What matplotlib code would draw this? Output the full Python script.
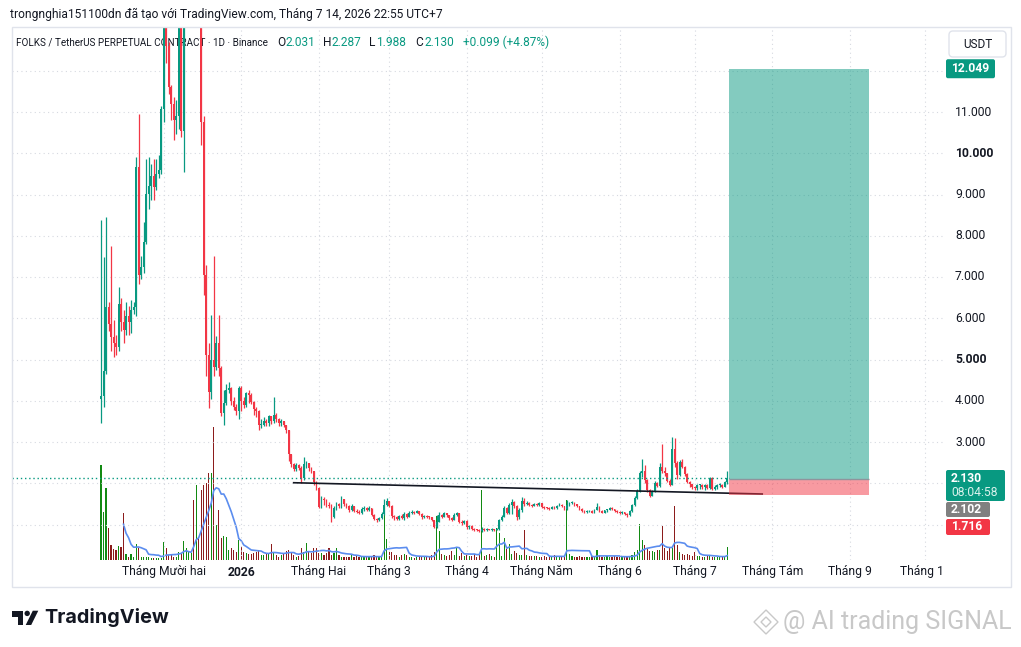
import numpy as np
import pandas as pd
import matplotlib
matplotlib.use("Agg")
import matplotlib.pyplot as plt
import matplotlib.patches as mpatches
import matplotlib.transforms as mtrans

plt.rcParams['font.family'] = ['Roboto', 'DejaVu Sans']

# ---------------- data ----------------
START_DATE = '2025-11-06'
first_open = 4.05
closes = [
    4.12, 4.71, 6.28, 5.86, 5.55, 5.40, 5.30, 6.35, 5.92, 5.72,
    6.05, 5.90, 6.20, 6.28, 9.66, 7.04, 7.25, 7.85, 9.02, 9.20,
    9.46, 9.18, 9.50, 9.60, 11.08, 14.50, 12.60, 11.60, 11.20, 10.80,
    10.90, 14.60, 10.55, 14.80, 15.50, 16.80, 17.50, 16.60, 17.20, 16.50,
    10.76, 7.05, 5.11, 4.22, 5.00, 4.83, 5.39, 4.80, 3.70, 3.95,
    4.25, 4.30, 4.00, 3.85, 3.74, 4.30, 4.00, 3.90, 4.18, 4.15,
    3.98, 3.80, 3.75, 3.42, 3.42, 3.52, 3.45, 3.62, 3.52, 3.65,
    3.55, 3.46, 3.50, 3.41, 3.28, 2.72, 2.46, 2.34, 2.44, 2.38,
    2.12, 2.46, 2.48, 2.36, 2.30, 2.02, 1.88, 1.43, 1.62, 1.60,
    1.46, 1.45, 1.19, 1.40, 1.50, 1.44, 1.62, 1.50, 1.45, 1.34,
    1.45, 1.33, 1.31, 1.28, 1.38, 1.40, 1.36, 1.40, 1.24, 1.14,
    1.10, 1.16, 1.26, 1.48, 1.56, 1.45, 1.20, 1.17, 1.13, 1.20,
    1.15, 1.26, 1.18, 1.29, 1.31, 1.29, 1.32, 1.26, 1.17, 1.21,
    1.19, 1.17, 1.11, 0.95, 1.07, 1.23, 1.19, 1.27, 1.22, 1.15,
    1.11, 1.24, 1.27, 1.07, 1.04, 1.09, 0.93, 0.97, 0.89, 0.87,
    0.86, 0.85, 0.90, 0.87, 0.89, 0.87, 0.89, 0.87, 0.90, 1.10,
    1.19, 1.39, 1.28, 1.47, 1.55, 1.45, 1.17, 1.36, 1.58, 1.50,
    1.52, 1.47, 1.45, 1.50, 1.48, 1.51, 1.43, 1.41, 1.40, 1.38,
    1.42, 1.39, 1.45, 1.48, 1.44, 1.38, 1.48, 1.51, 1.53, 1.49,
    1.44, 1.38, 1.33, 1.30, 1.31, 1.33, 1.29, 1.35, 1.43, 1.33,
    1.29, 1.34, 1.36, 1.40, 1.37, 1.33, 1.31, 1.28, 1.30, 1.25,
    1.22, 1.33, 1.47, 1.64, 1.80, 2.24, 2.30, 2.08, 1.84, 1.70,
    1.80, 2.00, 1.93, 2.40, 2.30, 2.24, 2.06, 1.96, 2.83, 2.50,
    2.20, 2.52, 2.40, 2.22, 2.04, 1.97, 1.90, 1.88, 1.95, 1.96,
    1.90, 1.96, 1.88, 2.12, 1.86, 1.92, 1.95, 1.96, 1.92, 2.031,
    2.130,
]
highs = [
    8.38, 7.49, 8.46, 6.40, 7.74, 5.95, 5.60, 6.75, 6.50, 6.20,
    6.40, 6.30, 6.45, 6.40, 9.91, 10.96, 7.50, 8.33, 9.85, 9.90,
    9.75, 9.87, 9.87, 9.95, 11.15, 15.20, 15.50, 12.70, 11.65, 11.36,
    11.28, 15.80, 15.00, 15.60, 16.80, 18.00, 19.50, 18.20, 18.40, 17.80,
    17.80, 10.90, 7.30, 5.40, 6.09, 7.50, 5.57, 6.08, 4.85, 4.25,
    4.40, 4.45, 4.33, 4.10, 3.92, 4.36, 4.36, 4.10, 4.22, 4.25,
    4.18, 4.00, 3.85, 3.78, 3.55, 3.60, 3.55, 3.66, 3.64, 4.10,
    3.70, 3.58, 3.56, 3.52, 3.42, 3.30, 2.72, 2.50, 2.48, 2.46,
    2.42, 2.63, 2.55, 2.50, 2.40, 2.30, 2.05, 1.90, 1.70, 1.66,
    1.62, 1.55, 1.50, 1.45, 1.55, 1.52, 1.70, 1.63, 1.52, 1.48,
    1.50, 1.46, 1.38, 1.34, 1.42, 1.44, 1.42, 1.44, 1.41, 1.26,
    1.16, 1.19, 1.30, 1.63, 1.65, 1.58, 1.47, 1.24, 1.20, 1.23,
    1.25, 1.30, 1.28, 1.32, 1.34, 1.33, 1.35, 1.33, 1.27, 1.24,
    1.23, 1.21, 1.18, 1.12, 1.23, 1.30, 1.26, 1.30, 1.29, 1.24,
    1.19, 1.28, 1.31, 1.28, 1.10, 1.12, 1.10, 1.00, 0.98, 0.91,
    0.90, 0.89, 0.93, 0.91, 0.91, 0.90, 0.91, 0.90, 0.92, 1.14,
    1.22, 1.45, 1.42, 1.52, 1.62, 1.58, 1.47, 1.40, 1.66, 1.65,
    1.56, 1.54, 1.50, 1.53, 1.52, 1.55, 1.52, 1.45, 1.43, 1.42,
    1.45, 1.44, 1.48, 1.51, 1.50, 1.45, 1.60, 1.54, 1.56, 1.55,
    1.50, 1.46, 1.40, 1.35, 1.34, 1.36, 1.34, 1.37, 1.51, 1.44,
    1.35, 1.36, 1.38, 1.43, 1.42, 1.38, 1.35, 1.33, 1.33, 1.31,
    1.27, 1.36, 1.50, 1.68, 1.86, 2.30, 2.58, 2.44, 2.10, 1.86,
    1.84, 2.05, 2.02, 2.48, 2.95, 2.40, 2.26, 2.10, 3.13, 3.10,
    2.55, 2.56, 2.60, 2.42, 2.24, 2.06, 1.99, 1.93, 1.98, 1.99,
    1.97, 1.99, 1.97, 2.15, 2.14, 1.95, 1.98, 2.00, 1.97, 2.06,
    2.287,
]
lows = [
    3.45, 3.86, 4.66, 5.70, 5.20, 5.05, 5.12, 5.20, 5.70, 5.40,
    5.60, 5.60, 5.65, 6.10, 6.05, 6.84, 6.95, 7.10, 7.80, 8.65,
    8.86, 8.86, 9.12, 9.40, 9.50, 10.76, 12.20, 11.44, 10.80, 10.31,
    10.47, 10.60, 10.40, 9.55, 14.20, 15.00, 16.00, 15.40, 15.80, 14.50,
    10.19, 6.56, 4.60, 3.82, 4.05, 4.60, 4.75, 4.60, 3.62, 3.41,
    3.90, 4.18, 3.90, 3.78, 3.65, 3.55, 3.75, 3.82, 3.85, 3.95,
    3.92, 3.66, 3.60, 3.30, 3.35, 3.38, 3.38, 3.40, 3.44, 3.45,
    3.48, 3.40, 3.40, 3.36, 3.22, 2.55, 2.40, 2.30, 2.30, 2.32,
    2.00, 2.08, 2.36, 2.30, 2.24, 1.96, 1.84, 1.39, 1.40, 1.48,
    1.42, 1.40, 1.07, 1.15, 1.36, 1.40, 1.40, 1.45, 1.40, 1.30,
    1.32, 1.30, 1.28, 1.25, 1.26, 1.33, 1.32, 1.33, 1.20, 1.10,
    1.05, 1.08, 1.13, 1.22, 1.44, 1.42, 1.15, 1.12, 1.10, 1.12,
    1.13, 1.12, 1.15, 1.17, 1.26, 1.26, 1.27, 1.24, 1.14, 1.15,
    1.16, 1.14, 1.08, 0.92, 0.91, 1.05, 1.15, 1.17, 1.19, 1.12,
    1.08, 1.10, 1.20, 1.04, 1.00, 1.01, 0.90, 0.90, 0.87, 0.85,
    0.84, 0.83, 0.82, 0.85, 0.85, 0.86, 0.85, 0.85, 0.86, 0.87,
    1.08, 1.17, 1.25, 1.26, 1.25, 1.40, 1.12, 1.14, 1.30, 1.46,
    1.48, 1.45, 1.42, 1.44, 1.45, 1.46, 1.41, 1.38, 1.37, 1.36,
    1.37, 1.37, 1.38, 1.44, 1.42, 1.35, 1.36, 1.45, 1.49, 1.46,
    1.42, 1.36, 1.31, 1.28, 1.29, 1.30, 1.27, 1.28, 1.34, 1.31,
    1.27, 1.28, 1.30, 1.34, 1.35, 1.31, 1.29, 1.26, 1.26, 1.23,
    1.18, 1.20, 1.31, 1.45, 1.62, 1.78, 2.15, 2.00, 1.80, 1.66,
    1.68, 1.78, 1.90, 1.90, 2.24, 2.18, 2.02, 1.94, 1.95, 2.40,
    2.10, 2.18, 2.36, 2.18, 2.00, 1.92, 1.86, 1.84, 1.84, 1.87,
    1.86, 1.84, 1.85, 1.86, 1.84, 1.84, 1.86, 1.90, 1.89, 1.90,
    1.988,
]
volumes = [
    95, 48, 72, 32, 15, 11, 10, 14, 13, 47,
    6, 3, 6, 3, 16, 12, 3, 3, 3, 3,
    2, 2, 2, 2, 2, 18, 12, 5, 6, 3,
    3, 8, 7, 19, 12, 8, 7, 60, 75, 23,
    70, 75, 77, 87, 87, 133, 35, 50, 22, 24,
    23, 10, 12, 10, 8, 20, 13, 8, 7, 6,
    6, 7, 8, 9, 5, 5, 6, 6, 16, 7,
    5, 3, 5, 7, 9, 10, 7, 5, 3, 4,
    12, 8, 17, 9, 7, 12, 12, 7, 7, 5,
    7, 12, 5, 7, 12, 5, 3, 3, 3, 3,
    5, 3, 4, 3, 3, 4, 3, 3, 3, 5,
    3, 3, 4, 60, 21, 8, 8, 5, 5, 3,
    5, 6, 5, 3, 3, 2, 3, 3, 4, 3,
    4, 3, 5, 8, 44, 29, 6, 5, 4, 5,
    9, 5, 12, 4, 7, 4, 5, 4, 4, 6,
    3, 5, 70, 4, 5, 6, 4, 3, 32, 27,
    4, 22, 11, 16, 6, 9, 7, 5, 5, 30,
    5, 4, 4, 4, 4, 3, 3, 4, 3, 4,
    3, 5, 4, 3, 4, 3, 60, 6, 4, 3,
    3, 4, 3, 3, 3, 3, 4, 3, 10, 5,
    3, 3, 4, 3, 3, 4, 3, 3, 3, 4,
    3, 4, 5, 8, 10, 36, 20, 15, 12, 9,
    9, 8, 10, 10, 34, 12, 9, 12, 12, 54,
    15, 8, 6, 5, 6, 5, 4, 8, 4, 4,
    3, 3, 5, 4, 3, 3, 3, 3, 3, 4,
    13,
]
vol_ma_len = 10

month_labels = ['Tháng Mười hai', '2026', 'Tháng Hai', 'Tháng 3', 'Tháng 4',
                'Tháng Năm', 'Tháng 6', 'Tháng 7', 'Tháng Tám', 'Tháng 9', 'Tháng 10']
month_starts = pd.date_range('2025-12-01', '2026-10-01', freq='MS')
price_ticks = [3, 4, 5, 6, 7, 8, 9, 10, 11]
bold_ticks = [5, 10]

last_o, last_h, last_l, last_c = 2.031, 2.287, 1.988, 2.130
change_abs, change_pct = 0.099, 4.87
target_price, entry_price, stop_price = 12.049, 2.102, 1.716
countdown = '08:04:58'
pos_start, pos_end = '2026-07-14 17:00', '2026-09-08 14:00'
trend_pts = [('2026-01-21 14:00', 2.013), ('2026-07-28 07:00', 1.739)]

header_text = 'trongnghia151100dn đã tạo với TradingView.com, Tháng 7 14, 2026 22:55 UTC+7'
symbol_text = 'FOLKS / TetherUS PERPETUAL CONTRACT · 1D · Binance'
watermark = '@ AI trading SIGNAL'

# ---------------- style ----------------
UP = '#089981'
DN = '#F23645'
VUP = '#128a12'
VDN = '#8c1c1c'
TXT = '#131722'
GRID = '#D6D9E0'

W, H = 1021, 647
fig = plt.figure(figsize=(W / 100, H / 100), dpi=100)
fig.patch.set_facecolor('white')
PX = mtrans.Affine2D().scale(1.0 / W, -1.0 / H).translate(0, 1) + fig.transFigure

PL, PR, PT, PB = 12, 944, 27, 560
rect = [PL / W, 1 - PB / H, (PR - PL) / W, (PB - PT) / H]
axv = fig.add_axes(rect)
ax = fig.add_axes(rect, sharex=axv)
ax.patch.set_alpha(0)
for a in (ax, axv):
    a.set_axis_off()

start = pd.Timestamp(START_DATE)
def day(d):
    return (pd.Timestamp(d) - start) / pd.Timedelta('1D')

c = np.array(closes)
h = np.array(highs)
l = np.array(lows)
o = np.r_[first_open, c[:-1]]
n = len(c)
x = np.arange(n)
up = c >= o

XL, XR = (PL - 101) / 2.505, (PR - 101) / 2.505
ax.set_xlim(XL, XR)
YB, YT = 3 - (PB - 442) / 41.25, 3 + (442 - PT) / 41.25
ax.set_ylim(YB, YT)
axv.set_ylim(0, PB - PT)

# grid
for p in range(1, 13):
    ax.axhline(p, color=GRID, lw=0.8, ls=(0, (1, 3)), zorder=0)
mpos = [day(m) for m in month_starts]
for mp in mpos:
    ax.axvline(mp, color=GRID, lw=0.8, ls=(0, (1, 3)), zorder=0)

# volume
vol = np.array(volumes, dtype=float)
axv.bar(x, vol, width=0.45, color=np.where(up, VUP, VDN), linewidth=0)
ma = pd.Series(vol).rolling(vol_ma_len).mean()
axv.plot(x, ma, color='#5B8DEF', lw=1.2)

# candles
cols = np.where(up, UP, DN)
ax.vlines(x, np.minimum(l, np.minimum(o, c)), np.maximum(h, np.maximum(o, c)),
          colors=cols, lw=0.9, zorder=3)
ax.bar(x, np.maximum(np.abs(c - o), 0.025), bottom=np.minimum(o, c), width=0.72,
       color=cols, linewidth=0, zorder=4)

# current price line
ax.hlines(last_c, XL, day(pos_start), colors=UP, lw=1.0, linestyles=(0, (1, 2)), zorder=5)

# trend line
ax.plot([day(t[0]) for t in trend_pts], [t[1] for t in trend_pts], color=TXT, lw=1.2, zorder=6,
        solid_capstyle='butt')

# long position tool
px0, px1 = day(pos_start), day(pos_end)
ax.add_patch(mpatches.Rectangle((px0, entry_price), px1 - px0, target_price - entry_price,
                                facecolor=UP, alpha=0.5, lw=0, zorder=7))
ax.add_patch(mpatches.Rectangle((px0, stop_price), px1 - px0, entry_price - stop_price,
                                facecolor=DN, alpha=0.5, lw=0, zorder=7))
ax.hlines(entry_price, px0, px1, colors='#8f949c', lw=1.0, zorder=8)

def ftext(xp, yp, s, **kw):
    kw.setdefault('color', TXT)
    kw.setdefault('fontsize', 8.3)
    kw.setdefault('va', 'center')
    return fig.text(xp, yp, s, transform=PX, **kw)

# legend line (in axes so candles draw over it)
ax.text(16, 42, symbol_text, transform=PX, fontsize=7.1, color=TXT, va='center', zorder=1)
pieces = [(277, 'O', TXT), (285, f'{last_o:.3f}', UP), (323, 'H', TXT), (331, f'{last_h:.3f}', UP),
          (369, 'L', TXT), (376, f'{last_l:.3f}', UP), (415, 'C', TXT), (424, f'{last_c:.3f}', UP),
          (463, f'+{change_abs:.3f} (+{change_pct:.2f}%)', UP)]
for xp, s, col in pieces:
    ax.text(xp, 42, s, transform=PX, fontsize=8.6, color=col, va='center', zorder=1)

ftext(10, 14, header_text, fontsize=8.65)

# frame
fig.add_artist(mpatches.Rectangle((12, 27), 999, 560, transform=PX, fill=False,
                                  edgecolor='#E0E3EB', lw=1.0))

# price axis labels
yt = mtrans.blended_transform_factory(PX, ax.transData)
for p in price_ticks:
    fig.text(955, p, f'{p:.3f}', transform=yt, fontsize=8.7, color=TXT, va='center',
             fontweight='bold' if p in bold_ticks else 'normal')

def tag(y0, y1, x1, color):
    fig.add_artist(mpatches.FancyBboxPatch((946, y0), x1 - 946, y1 - y0, transform=PX,
                                           boxstyle='round,pad=0,rounding_size=2',
                                           facecolor=color, edgecolor='none'))

ty = 442 - (target_price - 3) * 41.25
tag(ty - 9.5, ty + 9.5, 995, UP)
ftext(951, ty, f'{target_price:.3f}', color='white', fontsize=8.7, fontweight='bold')
tag(470, 501, 1005, UP)
ftext(951, 478.5, f'{last_c:.3f}', color='white', fontsize=8.7, fontweight='bold')
ftext(951, 493, countdown, color='#d9f2ec', fontsize=8.7)
tag(502, 517, 990, '#808080')
ftext(951, 509.5, f'{entry_price:.3f}', color='white', fontsize=8.7, fontweight='bold')
tag(519, 535, 990, DN)
ftext(951, 527, f'{stop_price:.3f}', color='white', fontsize=8.7, fontweight='bold')

# USDT box
fig.add_artist(mpatches.FancyBboxPatch((949, 31), 57, 26, transform=PX,
                                       boxstyle='round,pad=0,rounding_size=4',
                                       facecolor='white', edgecolor='#E0E3EB', lw=1.0))
ftext(977.5, 44, 'USDT', ha='center', fontsize=8.5)

# time axis labels
xt = mtrans.blended_transform_factory(ax.transData, PX)
clipbb = mtrans.Bbox.from_extents(PL, H - 587, PR, H - PB)
for mp, lab in zip(mpos, month_labels):
    t = fig.text(mp, 572, lab, transform=xt, fontsize=8.7, color=TXT, ha='center', va='center',
                 fontweight='bold' if lab.isdigit() else 'normal')
    t.set_clip_box(clipbb)
    t.set_clip_on(True)

# footer: TradingView logo
K = '#131722'
fig.add_artist(mpatches.Rectangle((11.7, 610.7), 11.6, 6, transform=PX, color=K, lw=0))
fig.add_artist(mpatches.Rectangle((17.7, 610.7), 5.6, 14.3, transform=PX, color=K, lw=0))
fig.add_artist(mpatches.Circle((27.2, 613.4), 2.7, transform=PX, color=K, lw=0))
fig.add_artist(mpatches.Polygon([(25.7, 625), (31.2, 625), (38.3, 610.7), (32.8, 610.7)],
                                closed=True, transform=PX, color=K, lw=0))
fig.text(44, 617.5, 'TradingView', transform=PX, fontsize=14.3, fontweight='bold', color=K,
         va='center', family=['Inter', 'Roboto', 'DejaVu Sans'])

# watermark
WM = '#C8C8C8'
cx, cy = 766, 622
fig.add_artist(mpatches.Polygon([(cx, cy - 12), (cx + 12, cy), (cx, cy + 12), (cx - 12, cy)],
                                closed=True, transform=PX, fill=False, edgecolor=WM, lw=1.0))
fig.add_artist(mpatches.Polygon([(cx, cy - 5), (cx + 5, cy), (cx, cy + 5), (cx - 5, cy)],
                                closed=True, transform=PX, fill=False, edgecolor=WM, lw=1.0))
ftext(783, 622, watermark, fontsize=18, color=WM)

fig.savefig('out.png', dpi=100, facecolor='white')
